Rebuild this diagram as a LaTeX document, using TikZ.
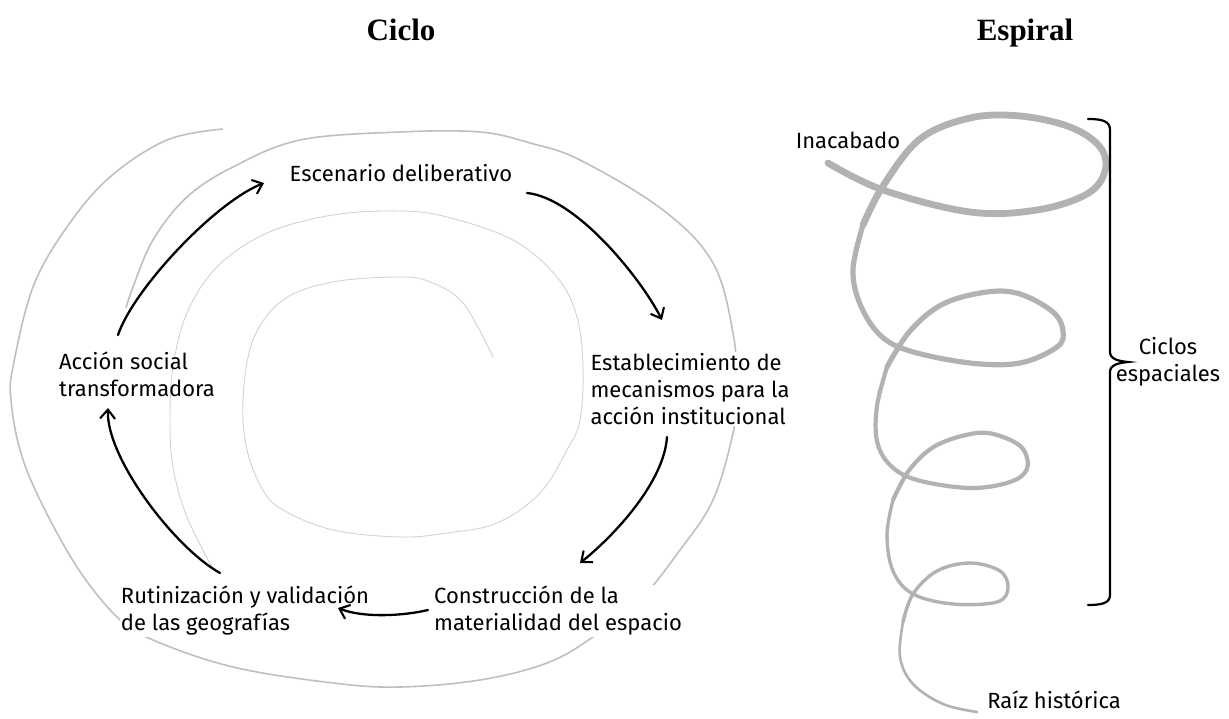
\documentclass[tikz,border=0pt]{standalone}
\usepackage{fontspec}
\setmainfont{Fira Sans}
\newfontfamily\titlefont{Liberation Serif}
\usetikzlibrary{arrows.meta}

\tikzset{
  stage/.style={font=\fontsize{22}{27}\selectfont, align=left, inner sep=1pt},
  blank/.style={fill=white},
  heading/.style={font=\titlefont\bfseries\fontsize{31}{36}\selectfont, anchor=base},
  flow/.style={line width=2.3pt, line cap=round, -{Straight Barb[length=9pt,width=15pt,line width=2.1pt]}},
  outerring/.style={gray!50, line width=1.6pt},
  innerring/.style={gray!35, line width=0.9pt},
  coil/.style={gray!60, line cap=round, line join=round},
}

\begin{document}
\begin{tikzpicture}[x=1pt,y=-1pt]
\useasboundingbox (0,0) rectangle (1229,719);
% titles
\node[heading] (tciclo) at (401,41) {Ciclo};
\node[heading] (tespiral) at (1025,41) {Espiral};

% grey spiral behind the cycle
\draw[outerring] plot[smooth,tension=0.6] coordinates {(126,308) (133,287) (153,240) (187,197) (233,167) (300,140) (400,132) (480,132) (530,143) (580,160) (663,210) (713,263) (733,333) (737,390) (733,433) (713,500) (680,550) (640,600) (593,637) (547,663) (480,680) (400,687) (333,683) (233,667) (153,640) (117,617) (77,567) (40,500) (20,450) (11,400) (13,367) (33,287) (67,227) (110,177) (167,140) (223,129)};
\draw[innerring] plot[smooth,tension=0.6] coordinates {(212,567) (187,517) (173,467) (170,420) (173,367) (187,313) (217,267) (267,233) (333,215) (400,211) (447,217) (513,240) (557,277) (577,317) (583,367) (580,420) (567,450) (540,493) (497,523) (447,533) (400,537) (333,530) (283,510) (263,490) (247,450) (243,400) (253,340) (283,300) (333,282) (400,277) (430,282) (463,303) (493,357)};

% stages of the cycle
\node[stage,blank] (escenario) at (401,173) {Escenario deliberativo};
\node[stage,blank] (establ) at (690,389) {Establecimiento de\\mecanismos para la\\acción institucional};
\node[stage,blank] (constr) at (558,611) {Construcción de la\\materialidad del espacio};
\node[stage,blank] (rutin) at (245,611) {Rutinización y validación\\de las geografías};
\node[stage] (accion) at (137,374) {Acción social\\transformadora};

% arrows of the cycle
\draw[flow] ([shift={(-19,-39)}]accion.center) .. controls +(15,-45) and +(-50,20) .. ([shift={(-137,10)}]escenario.center);
\draw[flow] ([shift={(126,20)}]escenario.center) .. controls +(50,5) and +(-20,-40) .. ([shift={(-28,-69)}]establ.center);
\draw[flow] ([shift={(-23,48)}]establ.center) .. controls +(-3,45) and +(35,-28) .. ([shift={(22,-48)}]constr.center);
\draw[flow] ([shift={(-130,-1)}]constr.center) .. controls +(-25,6) and +(25,10) .. ([shift={(93,-3)}]rutin.center);
\draw[flow] ([shift={(-25,-38)}]rutin.center) .. controls +(-45,-25) and +(-2,50) .. ([shift={(-29,34)}]accion.center);

% spiral, thinning towards its root
\draw[coil, line width=6.8pt] plot[smooth,tension=0.6] coordinates {(828,163) (883,190) (970,212) (1037,210) (1087,194) (1105,171) (1100,147) (1070,127) (1020,116) (970,118) (920,139) (883,186) (863,225)};
\draw[coil, line width=5.2pt] plot[smooth,tension=0.6] coordinates {(863,225) (853,269) (860,304) (880,335) (910,351) (970,363) (1020,363) (1057,347) (1063,331) (1053,312) (1020,294) (987,292) (943,304) (910,331) (887,367)};
\draw[coil, line width=4.2pt] plot[smooth,tension=0.6] coordinates {(887,367) (877,406) (877,441) (890,465) (917,480) (970,488) (1010,482) (1027,469) (1023,449) (1003,437) (977,433) (937,445) (910,469) (893,500)};
\draw[coil, line width=3.4pt] plot[smooth,tension=0.6] coordinates {(893,500) (887,535) (893,571) (913,594) (953,604) (997,602) (1008,588) (1000,571) (970,563) (937,571) (913,594) (903,622)};
\draw[coil, line width=2.6pt] plot[smooth,tension=0.6] coordinates {(903,622) (900,657) (913,684) (943,704) (977,712)};

% bracket
\draw[line width=2.2pt, line cap=round] (1088,119) .. controls (1102,119) and (1110,121) .. (1110,130) -- (1110,352) .. controls (1110,359) and (1118,361) .. (1128,362) .. controls (1118,363) and (1110,365) .. (1110,372) -- (1110,595) .. controls (1110,603) and (1102,605) .. (1088,605);

% labels of the spiral
\node[stage] (inacabado) at (848,140) {Inacabado};
\node[stage,align=center] (ciclos) at (1168,362) {Ciclos\\espaciales};
\node[stage] (raiz) at (1054,700) {Raíz histórica};
\end{tikzpicture}
\end{document}
